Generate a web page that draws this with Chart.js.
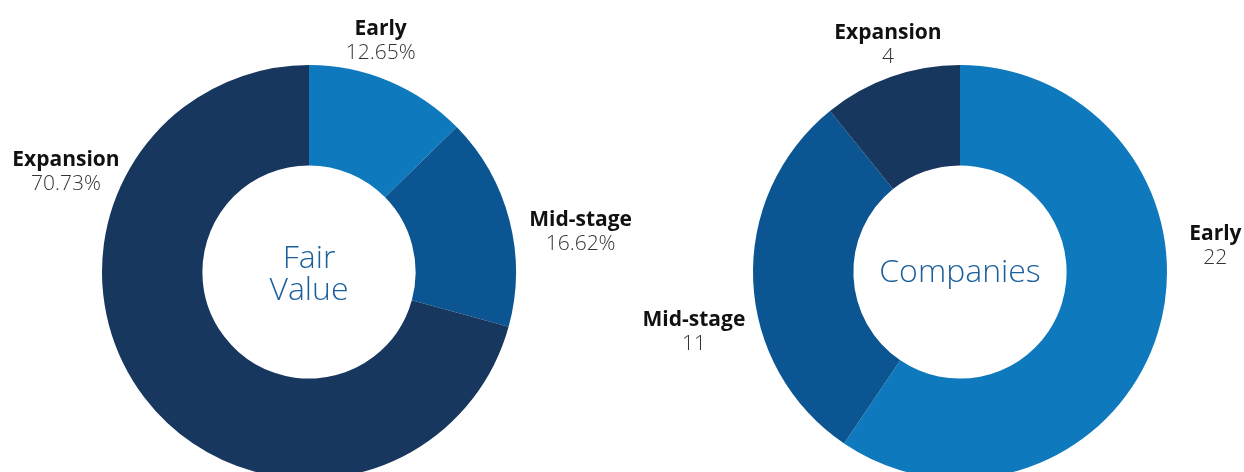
<!DOCTYPE html>
<html>
<head>
<meta charset="utf-8">
<script src="https://cdn.jsdelivr.net/npm/chart.js@4.4.0/dist/chart.umd.min.js"></script>
<style>
  html, body { margin: 0; padding: 0; background: #fff; overflow: hidden; }
  body { width: 1244px; height: 472px; position: relative; }
  .box { position: absolute; top: 0; left: 0; width: 1244px; height: 500px; }
</style>
</head>
<body>
<div class="box"><canvas id="fair-chart" width="1244" height="500"></canvas></div>
<div class="box"><canvas id="count-chart" width="1244" height="500"></canvas></div>
<script>
// data
const fairLabels = ['Early', 'Mid-stage', 'Expansion'];
const fairValues = [12.65, 16.62, 70.73];
const countLabels = ['Early', 'Mid-stage', 'Expansion'];
const countValues = [22, 11, 4];

const stageColors = ['#0e79bd', '#0b5592', '#17375e'];

// where each label block sits: angle (deg, clockwise from top) and distance from centre
const fairLabelPos = [[17, 245], [81, 275], [293, 264]];
const countLabelPos = [[83.5, 257], [258, 272], [342.6, 241]];

const labelPlugin = {
  id: 'sliceLabels',
  afterDraw(chart, args, opts) {
    const ctx = chart.ctx;
    const meta = chart.getDatasetMeta(0);
    const values = chart.data.datasets[0].data;
    ctx.save();
    ctx.textAlign = 'center';
    ctx.textBaseline = 'middle';
    meta.data.forEach((arc, i) => {
      const [deg, dist] = opts.positions[i];
      const a = deg * Math.PI / 180;
      const x = arc.x + Math.sin(a) * dist;
      const y = arc.y - Math.cos(a) * dist;
      ctx.font = 'bold 21px "Open Sans"';
      ctx.fillStyle = '#111';
      ctx.fillText(chart.data.labels[i], x, y - 9);
      ctx.font = '300 21px "Open Sans"';
      ctx.fillStyle = '#333';
      ctx.fillText(opts.format(values[i]), x, y + 15);
    });

    // centre text
    const arc0 = meta.data[0];
    ctx.font = '300 32px "Open Sans"';
    ctx.fillStyle = '#1b5f9c';
    const lines = opts.center;
    const lh = 32;
    const top = arc0.y + (lines.length > 1 ? 3 : 1) - (lines.length - 1) * lh / 2;
    lines.forEach((line, k) => ctx.fillText(line, arc0.x, top + k * lh));
    ctx.restore();
  }
};

function createDonut(id, labels, values, padding, positions, center, format) {
  const ctx = document.getElementById(id).getContext('2d');
  return new Chart(ctx, {
    type: 'doughnut',
    data: {
      labels: labels,
      datasets: [{
        data: values,
        backgroundColor: stageColors,
        borderWidth: 0
      }]
    },
    options: {
      responsive: false,
      animation: false,
      cutout: '51.5%',
      layout: { padding: padding },
      plugins: {
        legend: { display: false },
        tooltip: { enabled: false },
        sliceLabels: { positions: positions, center: center, format: format }
      }
    },
    plugins: [labelPlugin]
  });
}

createDonut('fair-chart', fairLabels, fairValues,
  { left: 102, right: 728, top: 65, bottom: 21 },
  fairLabelPos, ['Fair', 'Value'], v => v.toFixed(2) + '%');

createDonut('count-chart', countLabels, countValues,
  { left: 753, right: 77, top: 65, bottom: 21 },
  countLabelPos, ['Companies'], v => String(v));
</script>
</body>
</html>
